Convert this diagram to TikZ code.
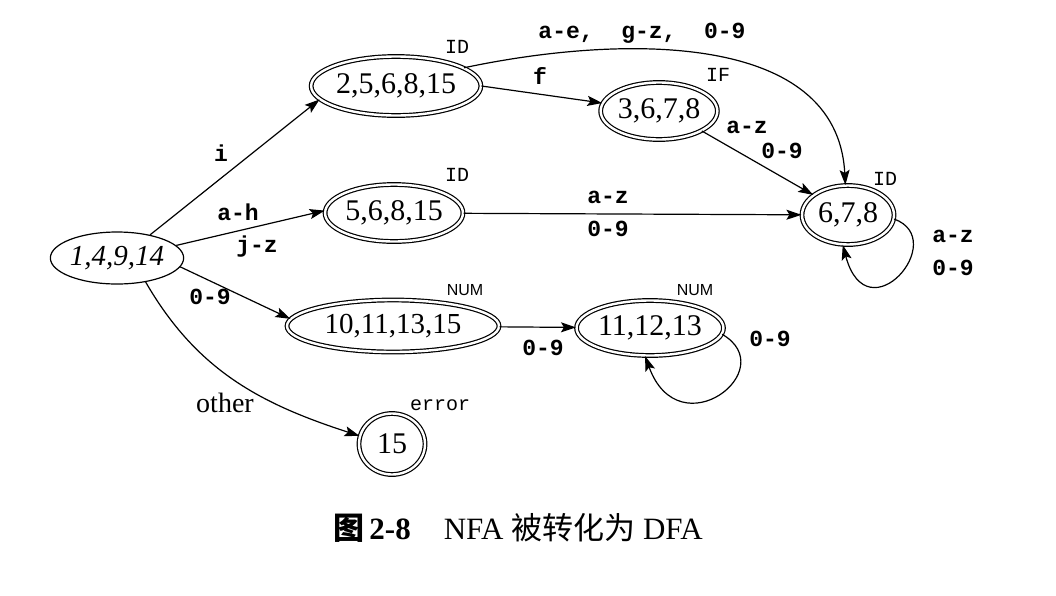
\documentclass[tikz,border=0pt]{standalone}
\usepackage{fontspec}
\setmainfont{Liberation Serif}
\setmonofont{Liberation Mono}
\newfontfamily\cjk{Noto Sans CJK SC}
\newfontfamily\sansf{Liberation Sans}
\usetikzlibrary{shapes.geometric,arrows.meta}
\begin{document}
\begin{tikzpicture}[x=1pt,y=-1pt,
  stnode/.style={draw, ellipse, line width=1.2pt, inner sep=0pt, font=\fontsize{30}{30}\selectfont},
  acc/.style={stnode, double, double distance=2.4pt},
  lab/.style={font=\fontsize{23}{23}\selectfont\ttfamily\bfseries, inner sep=0pt},
  tag/.style={font=\fontsize{20}{20}\selectfont\ttfamily, inner sep=0pt},
  numtag/.style={font=\fontsize{16}{16}\selectfont\sansf, inner sep=0pt},
  edge/.style={line width=1.2pt, -{Stealth[length=15pt,width=10pt,inset=3pt]}}
]
\useasboundingbox (0,0) rectangle (1056,595);

% states
\node[stnode, minimum width=119pt, minimum height=52pt, font=\fontsize{29}{29}\selectfont\itshape] (A) at (117,258) {1,4,9,14};
\node[acc, minimum width=154pt, minimum height=59pt] (B) at (396,86) {2,5,6,8,15};
\node[acc, minimum width=137pt, minimum height=57pt] (C) at (394,213) {5,6,8,15};
\node[acc, minimum width=107pt, minimum height=57pt] (D) at (659,111) {3,6,7,8};
\node[acc, minimum width=92pt, minimum height=59pt] (E) at (848,215) {6,7,8};
\node[acc, minimum width=212pt, minimum height=52pt, font=\fontsize{29}{29}\selectfont] (F) at (393,326) {10,11,13,15};
\node[acc, minimum width=141pt, minimum height=55pt] (G) at (650,328) {11,12,13};
\node[acc, minimum width=66pt, minimum height=61pt] (H) at (392,444) {15};

% tags
\node[tag] (tB) at (457,47) {ID};
\node[tag] (tC) at (457,175) {ID};
\node[tag] (tD) at (718,75) {IF};
\node[tag] (tE) at (885,179) {ID};
\node[numtag] (tF) at (465,290) {NUM};
\node[numtag] (tG) at (695,290) {NUM};
\node[tag] (tH) at (440,405) {error};

% edges
\draw[edge] (A.35) -- (B.190);
\draw[edge] (A.12) -- (C.178);
\draw[edge] (A.-8) -- (F.176);
\draw[edge] (A.-40) to[out=-60, in=162] (H.166);
\draw[edge] (B.east) -- (D.172);
\draw[edge] (B.15) to[out=12, in=93] (E.95);
\draw[edge] (D.-25) -- (E.150);
\draw[edge] (C) -- (E);
\draw[edge] (F) -- (G);
\draw[edge] (E.-5) to[out=-20, in=-75, out distance=60, in distance=95] (E.-100);
\draw[edge] (G.-5) to[out=-30, in=-70, out distance=70, in distance=100] (G.-100);

% edge labels
\node[lab] (li) at (221,153) {i};
\node[lab] (lah) at (238,212) {a-h};
\node[lab] (ljz) at (257,247) {j-z};
\node[lab] (l09a) at (210,297) {0-9};
\node[inner sep=0pt, font=\fontsize{28}{28}\selectfont] (lother) at (225,403) {other};
\node[lab] (lf) at (540,76) {f};
\node[lab] (lbe) at (642,33) {a-e,~~g-z,~~0-9};
\node[lab] (lde1) at (747,127) {a-z};
\node[lab] (lde2) at (782,151) {0-9};
\node[lab] (lce1) at (608,197) {a-z};
\node[lab] (lce2) at (608,229) {0-9};
\node[lab] (lee1) at (953,236) {a-z};
\node[lab] (lee2) at (953,268) {0-9};
\node[lab] (lfg) at (543,348) {0-9};
\node[lab] (lgg) at (770,339) {0-9};

% caption
\node[inner sep=0pt] (cap) at (518,528) {\fontsize{31}{31}\selectfont{\cjk\bfseries 图}\,\textbf{2-8}\hspace{33pt}NFA {\cjk 被转化为} DFA};
\end{tikzpicture}
\end{document}
